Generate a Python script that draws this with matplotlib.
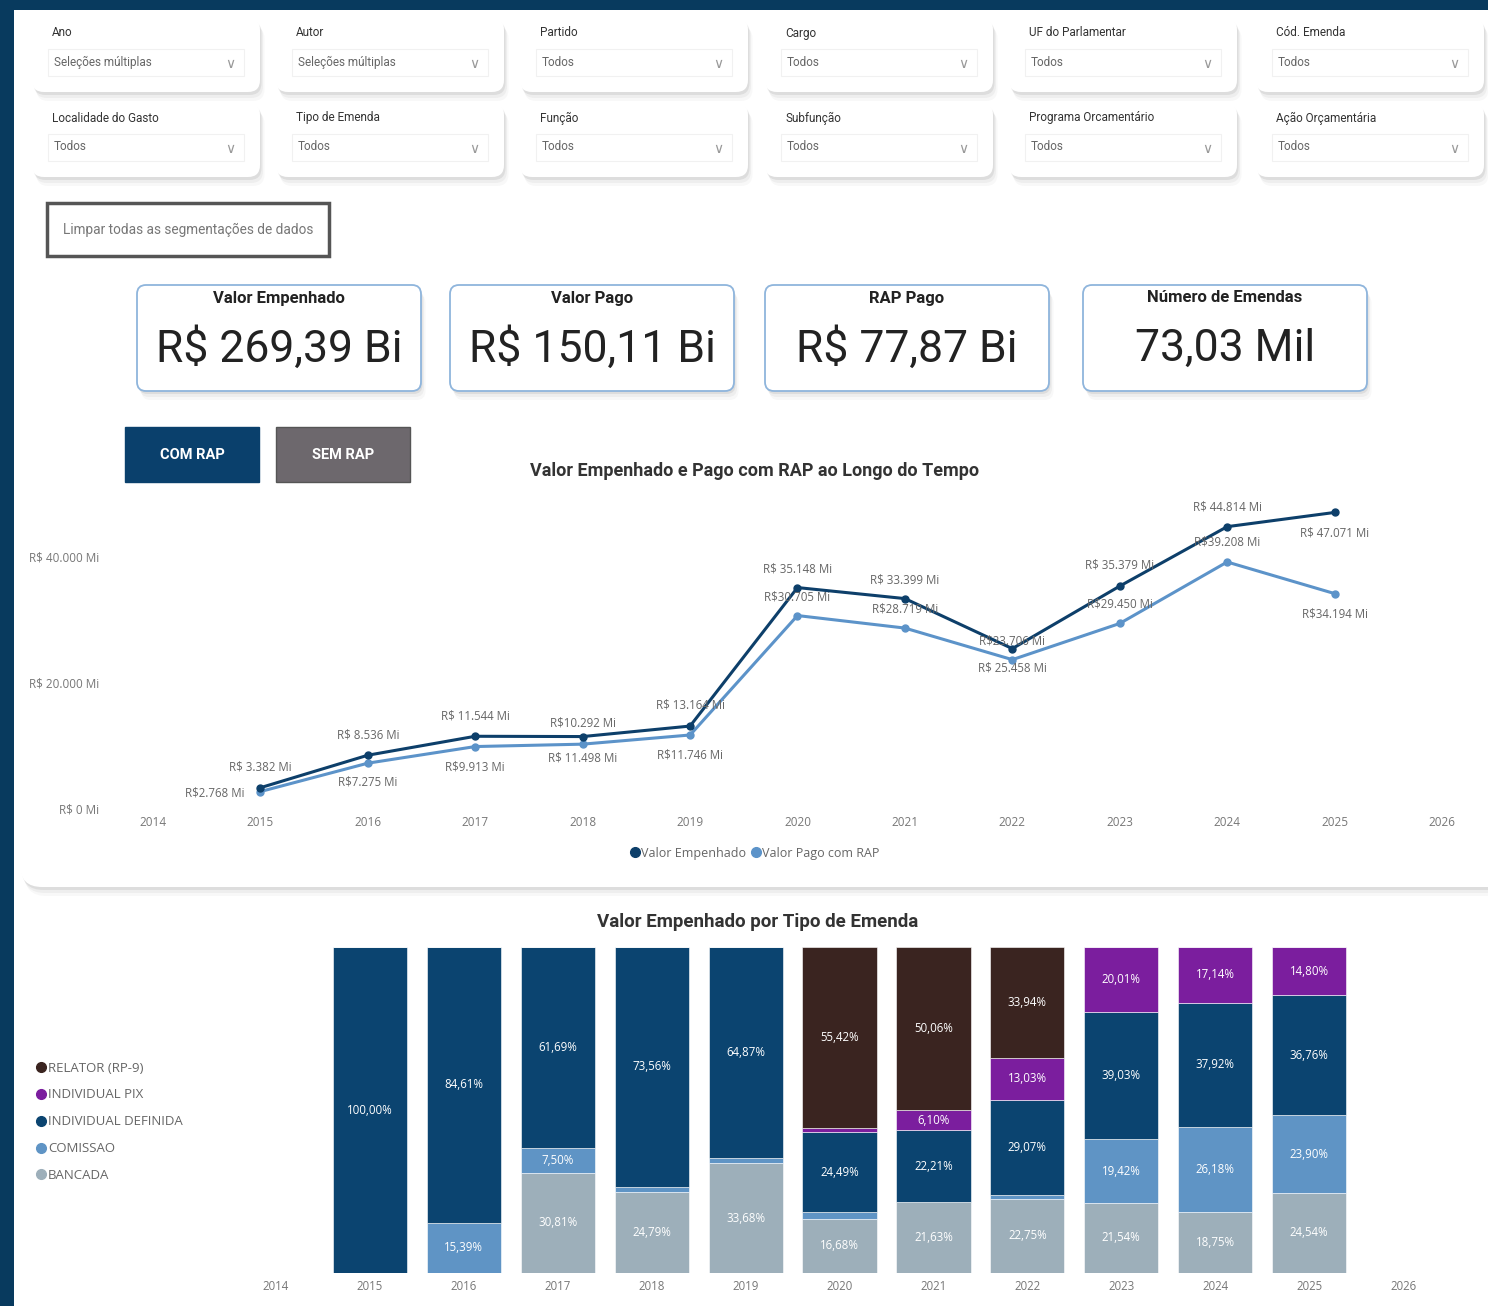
import matplotlib
matplotlib.use("Agg")
import matplotlib.pyplot as plt
from matplotlib.patches import FancyBboxPatch, Rectangle
from matplotlib.lines import Line2D
import numpy as np

# ---- data ----
years = [2015, 2016, 2017, 2018, 2019, 2020, 2021, 2022, 2023, 2024, 2025]
valor_empenhado = [3382, 8536, 11544, 11498, 13164, 35148, 33399, 25458, 35379, 44814, 47071]
valor_pago_rap = [2768, 7275, 9913, 10292, 11746, 30705, 28719, 23706, 29450, 39208, 34194]

tipos = ["BANCADA", "COMISSAO", "INDIVIDUAL DEFINIDA", "INDIVIDUAL PIX", "RELATOR (RP-9)"]
bancada = [0, 0, 30.81, 24.79, 33.68, 16.68, 21.63, 22.75, 21.54, 18.75, 24.54]
comissao = [0, 15.39, 7.50, 1.65, 1.45, 1.95, 0, 1.21, 19.42, 26.18, 23.90]
ind_definida = [100.00, 84.61, 61.69, 73.56, 64.87, 24.49, 22.21, 29.07, 39.03, 37.92, 36.76]
ind_pix = [0, 0, 0, 0, 0, 1.46, 6.10, 13.03, 20.01, 17.14, 14.80]
relator = [0, 0, 0, 0, 0, 55.42, 50.06, 33.94, 0, 0, 0]

kpi_titles = ["Valor Empenhado", "Valor Pago", "RAP Pago", "Número de Emendas"]
kpi_values = ["R$ 269,39 Bi", "R$ 150,11 Bi", "R$ 77,87 Bi", "73,03 Mil"]

filter_titles = [["Ano", "Autor", "Partido", "Cargo", "UF do Parlamentar", "Cód. Emenda"],
                 ["Localidade do Gasto", "Tipo de Emenda", "Função", "Subfunção",
                  "Programa Orcamentário", "Ação Orçamentária"]]
filter_values = [["Seleções múltiplas", "Seleções múltiplas", "Todos", "Todos", "Todos", "Todos"],
                 ["Todos"] * 6]

# ---- styles ----
NAVY = "#083A5E"
DARK_LINE = "#0D3F6A"
LIGHT_LINE = "#5C93C9"
bar_colors = ["#9DAFBA", "#5F94C5", "#0B4470", "#7B1E9E", "#3A2420"]
# label offsets in pixels (dx, dy) for each point
off_dark = [(0, 21), (0, 20), (0, 20), (0, -21), (0, 21), (0, 19), (0, 19), (0, -19), (0, 21), (0, 20), (0, -21)]
off_light = [(-46, -1), (0, -19), (0, -20), (0, 21), (0, -20), (0, 19), (0, 19), (0, 19), (0, 19), (0, 20), (0, -20)]
UI = ['Roboto', 'DejaVu Sans']

W, H = 1488, 1306
fig = plt.figure(figsize=(W / 100, H / 100), dpi=100)
fig.patch.set_facecolor(NAVY)
plt.rcParams['font.family'] = ['Open Sans', 'DejaVu Sans']


def px_axes(x0, y0, x1, y1):
    return fig.add_axes([x0 / W, 1 - y1 / H, (x1 - x0) / W, (y1 - y0) / H])


bg = fig.add_axes([0, 0, 1, 1])
bg.set_xlim(0, W)
bg.set_ylim(H, 0)
bg.axis('off')
bg.add_patch(Rectangle((14, 10), W - 14, H - 10, fc='white', ec='none'))


def card(x, y, w, h, r, edge='none', lw=0, shadow=True, fc='white'):
    style = f"round,pad=0,rounding_size={r}"
    if shadow:
        for off, a in [(9, 0.05), (6, 0.08), (3, 0.14)]:
            bg.add_patch(FancyBboxPatch((x + off * 0.5, y + off), w, h, boxstyle=style,
                                        fc='#7a7a7a', ec='none', alpha=a))
    bg.add_patch(FancyBboxPatch((x, y), w, h, boxstyle=style, fc=fc, ec=edge, lw=lw))


# filters
col_x = [32, 276, 520, 765, 1009, 1256]
row_y = [18, 103]
for r, y0 in enumerate(row_y):
    for c, x0 in enumerate(col_x):
        card(x0, y0, 228, 74, 12)
        bg.text(x0 + 20, y0 + 15, filter_titles[r][c], fontsize=8.5, color='#333',
                family=UI, va='center')
        bg.add_patch(Rectangle((x0 + 16, y0 + 31), 196, 27, fc='white', ec='#F1F1F1', lw=0.8))
        bg.text(x0 + 22, y0 + 44, filter_values[r][c], fontsize=8.5, color='#666',
                family=UI, va='center')
        bg.text(x0 + 198, y0 + 46, "∨", fontsize=10, color='#999', family='DejaVu Sans',
                ha='center', va='center')

# clear button
bg.add_patch(Rectangle((47, 203), 282, 53, fc='white', ec='#555', lw=2.5))
bg.text(188, 230, "Limpar todas as segmentações de dados", fontsize=9.8, color='#777',
        ha='center', va='center', family=UI)

# KPI cards
kpi_x = [137, 450, 765, 1083]
for x0, t, v in zip(kpi_x, kpi_titles, kpi_values):
    card(x0, 285, 284, 106, 9, edge='#8FB5DC', lw=1.3)
    bg.text(x0 + 142, 298, t, fontsize=12, fontweight='bold', color='#222',
            ha='center', va='center', family=UI)
    bg.text(x0 + 142, 349, v, fontsize=32, color='#222', ha='center', va='center', family=UI)

# big cards
card(20, 413, 1500, 474, 22)
card(20, 905, 1500, 430, 22)

# buttons
bg.add_patch(Rectangle((125, 427), 134, 55, fc='#0A406C', ec='#0A406C'))
bg.text(192, 455, "COM RAP", color='white', fontsize=10.5, fontweight='bold',
        ha='center', va='center', family=UI)
bg.add_patch(Rectangle((276, 427), 134, 55, fc='#6D686D', ec='#555', lw=1))
bg.text(343, 455, "SEM RAP", color='white', fontsize=10.5, fontweight='bold',
        ha='center', va='center', family=UI)

bg.text(755, 471, "Valor Empenhado e Pago com RAP ao Longo do Tempo", fontsize=13,
        fontweight='bold', color='#333', ha='center', va='center', family=UI)
bg.text(758, 922, "Valor Empenhado por Tipo de Emenda", fontsize=13.5,
        fontweight='bold', color='#333', ha='center', va='center', family=UI)

# ---- line chart ----
ax = px_axes(105, 494, 1480, 809)
ax.set_facecolor('none')
ax.plot(years, valor_empenhado, color=DARK_LINE, lw=2.2, marker='o', ms=5, zorder=3)
ax.plot(years, valor_pago_rap, color=LIGHT_LINE, lw=2.2, marker='o', ms=5, zorder=2)
for i, yr in enumerate(years):
    lab = "R$ " + f"{valor_empenhado[i]:,}".replace(',', '.') + " Mi"
    ax.annotate(lab, (yr, valor_empenhado[i]), xytext=off_dark[i], textcoords='offset pixels',
                ha='center', va='center', fontsize=8.3, color='#666')
    lab = "R$" + f"{valor_pago_rap[i]:,}".replace(',', '.') + " Mi"
    ax.annotate(lab, (yr, valor_pago_rap[i]), xytext=off_light[i], textcoords='offset pixels',
                ha='center', va='center', fontsize=8.3, color='#666')
ax.set_xlim(2013.553, 2026.354)
ax.set_ylim(0, 50000)
ax.set_xticks(range(2014, 2027))
ax.set_yticks([0, 20000, 40000])
ax.set_yticklabels(["R$ 0 Mi", "R$ 20.000 Mi", "R$ 40.000 Mi"])
ax.tick_params(length=0, labelsize=8.5, labelcolor='#777')
ax.tick_params(axis='x', pad=5)
ax.tick_params(axis='y', pad=4)
for s in ax.spines.values():
    s.set_visible(False)

h_line = [Line2D([], [], ls='none', marker='o', ms=7, color=DARK_LINE),
          Line2D([], [], ls='none', marker='o', ms=7, color=LIGHT_LINE)]
fig.legend(h_line, ["Valor Empenhado", "Valor Pago com RAP"], loc='center',
           bbox_to_anchor=(754 / W, 1 - 853 / H), ncol=2, frameon=False, fontsize=9,
           handletextpad=0.0, columnspacing=0.3, handlelength=1.0, labelcolor='#666')

# ---- stacked bar chart ----
bx = px_axes(230, 947, 1450, 1273)
bx.set_facecolor('none')
series = [bancada, comissao, ind_definida, ind_pix, relator]
bottom = np.zeros(len(years))
for vals, col in zip(series, bar_colors):
    vals = np.array(vals)
    bx.bar(years, vals, bottom=bottom, width=0.79, color=col, edgecolor='white', lw=0.4)
    for yr, v, b in zip(years, vals, bottom):
        if v >= 5:
            bx.text(yr, b + v / 2, f"{v:.2f}%".replace('.', ','), ha='center', va='center',
                    fontsize=8.3, color='white')
    bottom += vals
bx.set_xlim(2013.51, 2026.5)
bx.set_ylim(0, 100)
bx.set_xticks(range(2014, 2027))
bx.set_yticks([])
bx.tick_params(length=0, labelsize=8.3, labelcolor='#777', pad=5)
for s in bx.spines.values():
    s.set_visible(False)

h_bar = [Line2D([], [], ls='none', marker='o', ms=7, color=c) for c in bar_colors[::-1]]
fig.legend(h_bar, tipos[::-1], loc='upper left', bbox_to_anchor=(28 / W, 1 - 1055 / H),
           frameon=False, fontsize=9.5, handletextpad=0.0, handlelength=1.0,
           labelspacing=1.05, borderpad=0, labelcolor='#666')

fig.savefig("out.png", dpi=100, facecolor=fig.get_facecolor())
